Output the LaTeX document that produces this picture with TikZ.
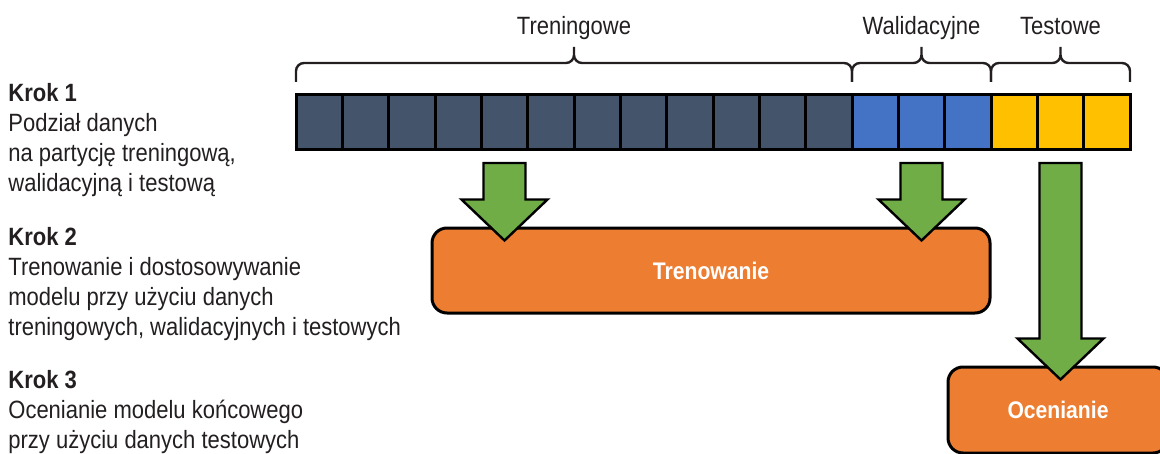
\documentclass[tikz,border=0pt]{standalone}
\usepackage{fontspec}
\setmainfont{Liberation Sans}[FakeStretch=0.88]
\usetikzlibrary{calc}
\definecolor{ciemny}{HTML}{44546A}
\definecolor{niebieski}{HTML}{4472C4}
\definecolor{zolty}{HTML}{FFC000}
\definecolor{pomaranczowy}{HTML}{ED7D31}
\definecolor{zielony}{HTML}{70AD47}
\definecolor{tekst}{HTML}{231F20}
\tikzset{
  komorka/.style={draw=black, line width=1.5pt, minimum width=23.17pt,
    minimum height=27.5pt, inner sep=0pt, outer sep=0pt}, % Datenfelder
  klamra/.style={line width=1.2pt, rounded corners=4pt, draw=tekst},
  etykieta/.style={anchor=base, inner sep=0pt, text=tekst},
  blok/.style={draw=black, line width=1.2pt, fill=zielony, line join=miter},
  pudlo/.style={draw=black, line width=1.5pt, fill=pomaranczowy,
    rounded corners=7.5pt, text=white, font=\fontsize{12}{14}\selectfont\bfseries},
  krok/.style={anchor=north west, align=left, inner sep=0pt, text=tekst}
}
% Klammer ueber Feldern: #1 erstes Feld, #2 letztes Feld, #3 Text, #4 Name
\newcommand{\podklamra}[4]{%
  \draw[klamra] let \p1=(#1.north west), \p2=(#2.north east),
      \p3=($(#1.north west)!0.5!(#2.north east)$) in
    (\x1,\y1+6.5pt) |- (\x3,\y1+16pt) -- (\x3,\y1+24pt)
    (\x3,\y1+24pt) -- (\x3,\y1+16pt) -| (\x2,\y1+6.5pt)
    (\x3,\y1+30pt) node[etykieta] (#4) {#3};}
% Blockpfeil von Feld #1 zu Kasten #2
\newcommand{\grubastrzalka}[2]{%
  \draw[blok] let \p1=(#1.south), \p2=(#2.north) in
    (\x1-10.5pt,\y1-6.5pt) -- (\x1+10.5pt,\y1-6.5pt) -- (\x1+10.5pt,\y2+13.5pt)
    -- (\x1+21.5pt,\y2+13.5pt) -- (\x1,\y2-7pt) -- (\x1-21.5pt,\y2+13.5pt)
    -- (\x1-10.5pt,\y2+13.5pt) -- cycle;}

\begin{document}
\begin{tikzpicture}[x=0.5pt, y=-0.5pt,
  font=\fontsize{12.5}{15}\selectfont
]
\useasboundingbox (0,0) rectangle (1160,454);
\clip (0,0) rectangle (1160,454);

%Felder
\foreach \i in {1,...,12}
  \node[komorka, fill=ciemny] (c\i) at ({296+(\i-0.5)*46.333},122.5) {};
\foreach \i in {13,14,15}
  \node[komorka, fill=niebieski] (c\i) at ({296+(\i-0.5)*46.333},122.5) {};
\foreach \i in {16,17,18}
  \node[komorka, fill=zolty] (c\i) at ({296+(\i-0.5)*46.333},122.5) {};

%Klammern
\podklamra{c1}{c12}{Treningowe}{ltren}
\podklamra{c13}{c15}{Walidacyjne}{lwal}
\podklamra{c16}{c18}{Testowe}{ltest}

%Kaesten
\node[pudlo, minimum width=279pt, minimum height=42.5pt] (trening) at (711,270.5) {Trenowanie};
\node[pudlo, minimum width=110pt, minimum height=43pt] (ocena) at (1058,410) {Ocenianie};

%Pfeile
\grubastrzalka{c5}{trening}
\grubastrzalka{c14}{trening}
\grubastrzalka{c17}{ocena}

%Schritte
\node[krok] (krok1) at (8,83) {\textbf{Krok 1}\\Podział danych\\na partycję treningową,\\walidacyjną i testową};
\node[krok] (krok2) at (8,227) {\textbf{Krok 2}\\Trenowanie i dostosowywanie\\modelu przy użyciu danych\\treningowych, walidacyjnych i testowych};
\node[krok] (krok3) at (8,370) {\textbf{Krok 3}\\Ocenianie modelu końcowego\\przy użyciu danych testowych};

\end{tikzpicture}
\end{document}
